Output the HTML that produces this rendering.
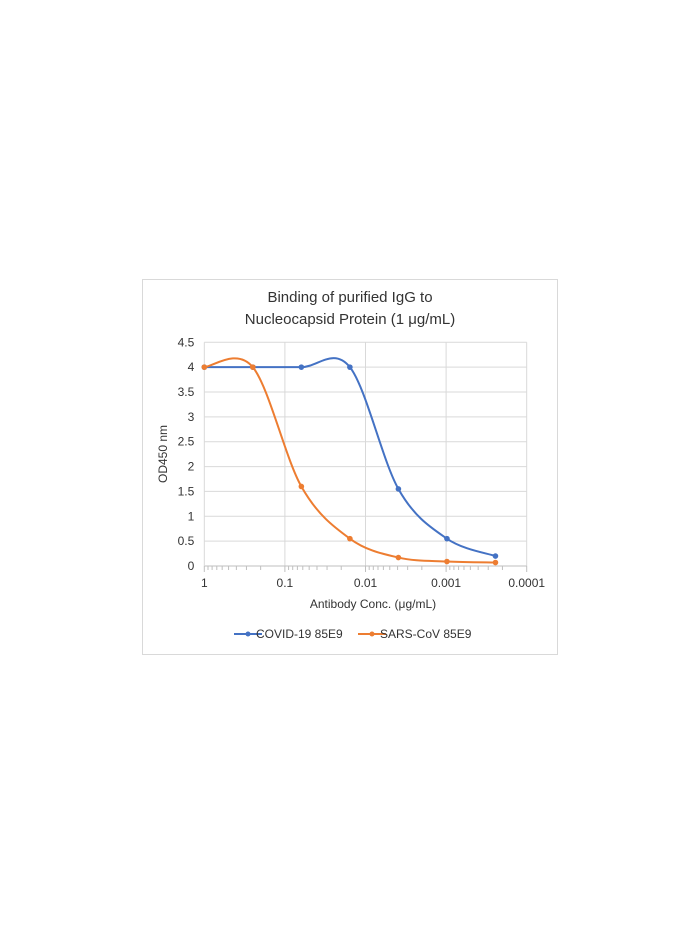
<!DOCTYPE html>
<html><head><meta charset="utf-8"><style>
html,body{margin:0;padding:0;background:#fff;}
body{width:700px;height:934px;position:relative;font-family:"Liberation Sans",sans-serif;}
</style></head><body>
<svg width="700" height="934" style="position:absolute;left:0;top:0">
<rect x="142.5" y="279.5" width="415" height="375" fill="#fff" stroke="#d9d9d9"/>
<text x="350" y="302" text-anchor="middle" font-size="15" fill="#333">Binding of purified IgG to</text>
<text x="350" y="324" text-anchor="middle" font-size="15" fill="#333">Nucleocapsid Protein (1 μg/mL)</text>
<g id="grid"></g><g id="axes"></g><g id="series"></g>
<text x="373" y="608" text-anchor="middle" font-size="12" fill="#333">Antibody Conc. (μg/mL)</text>
<text transform="translate(167,454) rotate(-90)" text-anchor="middle" font-size="12" fill="#333">OD450 nm</text>
<g>
<g><line x1="234" y1="634" x2="262" y2="634" stroke="#4472c4" stroke-width="2"/><circle cx="248" cy="634" r="2.5" fill="#4472c4"/><text x="256" y="638" font-size="12" fill="#333" dx="0">COVID-19 85E9</text></g>
<g><line x1="358" y1="634" x2="386" y2="634" stroke="#ed7d31" stroke-width="2"/><circle cx="372" cy="634" r="2.5" fill="#ed7d31"/><text x="380" y="638" font-size="12" fill="#333">SARS-CoV 85E9</text></g>
</g>
</svg>
<script>
const concentrations=[1,0.25,0.0625,0.015625,0.00390625,0.0009765625,0.000244140625];
const covidValues=[4.0,4.0,4.0,4.0,1.55,0.55,0.2];
const sarsValues=[4.0,4.0,1.6,0.55,0.17,0.09,0.07];
const xTickLabels=["1","0.1","0.01","0.001","0.0001"];
const yTickLabels=["0","0.5","1","1.5","2","2.5","3","3.5","4","4.5"];
const NS="http://www.w3.org/2000/svg";
const L=204.3,R=526.7,T=342.3,B=566;
function xs(c){return L+(-Math.log10(c))/4*(R-L);}
function ys(v){return B-v/4.5*(B-T);}
function mk(tag,attrs,parent){const e=document.createElementNS(NS,tag);for(const k in attrs)e.setAttribute(k,attrs[k]);parent.appendChild(e);return e;}
const grid=document.getElementById('grid'),axes=document.getElementById('axes'),ser=document.getElementById('series');
yTickLabels.forEach((t,i)=>{const v=parseFloat(t);const y=ys(v);
 if(v>0){const g=mk('line',{x1:L,x2:R,y1:y,y2:y,stroke:'#d9d9d9','stroke-width':1},grid);
 
 }
 const tx=mk('text',{x:L-10,y:y+4,'text-anchor':'end','font-size':12,fill:'#333'},axes);tx.textContent=t;
 
 });
xTickLabels.forEach((t,i)=>{const x=xs(parseFloat(t));
 if(i>0){const g=mk('line',{x1:x,x2:x,y1:T,y2:B,stroke:'#d9d9d9','stroke-width':1},grid);
 
 }
 const tx=mk('text',{x:x,y:B+21,'text-anchor':'middle','font-size':12,fill:'#333'},axes);tx.textContent=t;
 
 
 if(i<xTickLabels.length-1){const base=parseFloat(t);for(let m=2;m<=9;m++){const xx=xs(base*m/10);
  const tk=mk('line',{x1:xx,x2:xx,y1:B,y2:B+4,stroke:'#bfbfbf'},axes);
  
  }}
 const mt=mk('line',{x1:x,x2:x,y1:B,y2:B+6,stroke:'#bfbfbf'},axes);
 
 });
const xa=mk('line',{x1:L,x2:R,y1:B,y2:B,stroke:'#bfbfbf'},axes);


const ya=mk('line',{x1:L,x2:L,y1:T,y2:B,stroke:'#d9d9d9'},axes);


function draw(vals,color,name){const p=concentrations.map((c,i)=>[xs(c),ys(vals[i])]);
 let d='M'+p[0][0]+','+p[0][1];
 for(let i=0;i<p.length-1;i++){const p0=p[Math.max(i-1,0)],p1=p[i],p2=p[i+1],p3=p[Math.min(i+2,p.length-1)];
  const c1=[p1[0]+(p2[0]-p0[0])/6,p1[1]+(p2[1]-p0[1])/6],c2=[p2[0]-(p3[0]-p1[0])/6,p2[1]-(p3[1]-p1[1])/6];
  d+=' C'+c1+' '+c2+' '+p2;}
 const path=mk('path',{d:d,fill:'none',stroke:color,'stroke-width':2},ser);
 
 
 p.forEach(q=>{const c=mk('circle',{cx:q[0],cy:q[1],r:2.8,fill:color},ser);
  
  });}
draw(covidValues,'#4472c4','covid-series');
draw(sarsValues,'#ed7d31','sars-series');
</script>
</body></html>
